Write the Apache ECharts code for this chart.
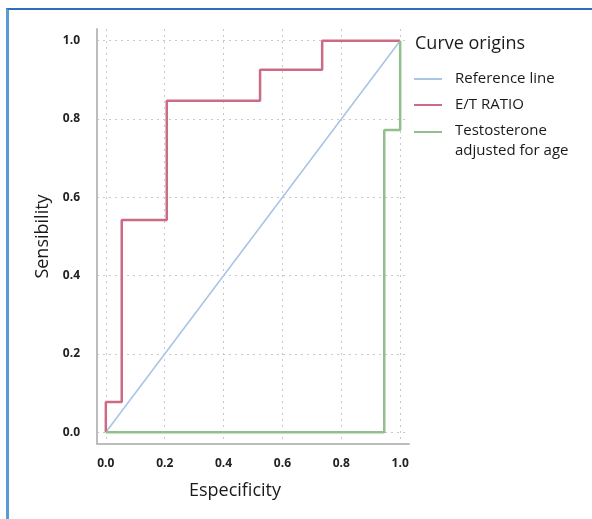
<!DOCTYPE html>
<html>
<head>
<meta charset="utf-8">
<script src="https://cdn.jsdelivr.net/npm/echarts@6/dist/echarts.min.js"></script>
<style>
  html, body { margin: 0; padding: 0; background: #fff; }
  #wrap { position: relative; width: 592px; height: 519px; overflow: hidden; }
  #frame { position: absolute; left: 6px; top: 8px; right: -10px; bottom: -10px;
           border-top: 2px solid #2e6db9; border-left: 3px solid #5b9bd5; }
  #chart { position: absolute; left: 0; top: 0; width: 592px; height: 519px; }
</style>
</head>
<body>
<div id="wrap">
  <div id="frame"></div>
  <div id="chart"></div>
</div>
<script>
// ROC curve vertices
const refX = [0, 1]
const refY = [0, 1]
const ratioX = [0, 0, 0.054, 0.054, 0.207, 0.207, 0.524, 0.524, 0.735, 0.735, 1.0]
const ratioY = [0, 0.077, 0.077, 0.542, 0.542, 0.847, 0.847, 0.926, 0.926, 1.0, 1.0]
const testoX = [0, 0.946, 0.946, 1.0, 1.0]
const testoY = [0, 0, 0.772, 0.772, 1.0]

const seriesNames = ['Reference line', 'E/T RATIO', 'Testosterone\nadjusted for age']
const colors = ['#a9c5e6', '#cd6b85', '#92bf8d']

const pts = (xs, ys) => xs.map((x, i) => [x, ys[i]])

const font = 'Open Sans, Noto Sans, sans-serif'

// legend icons: a short stripe, box padded so text sits further right
const iconMid = 'path://M0,0L0,0M0,9H28V11H0ZM36,20L36,20'
const iconTop = 'path://M0,0H28V2H0ZM36,20L36,20'

const axisCommon = {
  type: 'value',
  min: -0.03,
  max: 1.03,
  axisLine: { onZero: false, lineStyle: { color: '#bdbdbd', width: 2 } },
  axisTick: { show: false },
  splitLine: {
    show: true,
    showMinLine: false,
    showMaxLine: false,
    lineStyle: { color: '#c9c9c9', type: [2, 4], width: 1 }
  },
  nameLocation: 'middle',
  nameTextStyle: { color: '#1a1a1a', fontSize: 18, fontFamily: font }
}

const labelCommon = {
  showMinLabel: false,
  showMaxLabel: false,
  color: '#222',
  fontSize: 12,
  fontWeight: 'bold',
  fontFamily: font,
  formatter: v => v.toFixed(1)
}

const chart = echarts.init(document.getElementById('chart'))
chart.setOption({
  animation: false,
  backgroundColor: 'transparent',
  title: {
    text: 'Curve origins',
    left: 415,
    top: 35,
    padding: 0,
    textStyle: { color: '#1a1a1a', fontSize: 18, fontWeight: 'normal', fontFamily: font }
  },
  legend: {
    orient: 'vertical',
    left: 414,
    top: 69,
    padding: 0,
    itemWidth: 36,
    itemHeight: 20,
    itemGap: 6,
    textStyle: { color: '#1a1a1a', fontSize: 15, lineHeight: 20, fontFamily: font },
    data: [
      { name: seriesNames[0], icon: iconMid },
      { name: seriesNames[1], icon: iconMid },
      { name: seriesNames[2], icon: iconTop }
    ]
  },
  grid: { left: 97, right: 183, top: 29, bottom: 75 },
  xAxis: Object.assign({}, axisCommon, {
    name: 'Especificity',
    nameGap: 38,
    nameTextStyle: Object.assign({}, axisCommon.nameTextStyle, { padding: [0, 36, 0, 0] }),
    axisLabel: Object.assign({}, labelCommon, { margin: 14 })
  }),
  yAxis: Object.assign({}, axisCommon, {
    name: 'Sensibility',
    nameGap: 44,
    axisLabel: Object.assign({}, labelCommon, { margin: 17 })
  }),
  series: [
    {
      name: seriesNames[0], type: 'line', data: pts(refX, refY),
      showSymbol: false, symbol: 'none', silent: true,
      itemStyle: { color: colors[0] },
      lineStyle: { color: colors[0], width: 1.6 }
    },
    {
      name: seriesNames[1], type: 'line', data: pts(ratioX, ratioY),
      showSymbol: false, symbol: 'none', silent: true,
      itemStyle: { color: colors[1] },
      lineStyle: { color: colors[1], width: 2.5 }
    },
    {
      name: seriesNames[2], type: 'line', data: pts(testoX, testoY),
      showSymbol: false, symbol: 'none', silent: true,
      itemStyle: { color: colors[2] },
      lineStyle: { color: colors[2], width: 2.5 }
    }
  ]
})
</script>
</body>
</html>
